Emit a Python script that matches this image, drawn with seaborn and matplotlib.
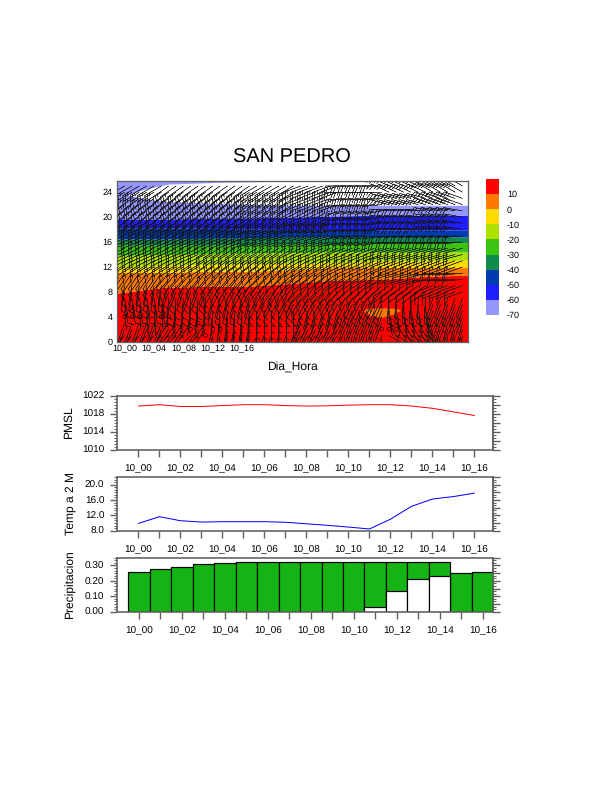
#!/usr/bin/env python3
# -*- coding: utf-8 -*-
import numpy as np
import pandas as pd
import matplotlib
matplotlib.use("Agg")
import matplotlib.pyplot as plt
from matplotlib.ticker import FixedLocator, NullFormatter
import seaborn as sns

W, H = 612, 792

# bottom panels
hours = list(range(17))
hour_labels = ['10_00', '10_02', '10_04', '10_06', '10_08', '10_10', '10_12', '10_14', '10_16']
pmsl = [1019.7, 1020.0, 1019.6, 1019.6, 1019.8, 1020.0, 1020.0, 1019.8, 1019.7,
        1019.75, 1019.9, 1020.0, 1020.0, 1019.7, 1019.2, 1018.4, 1017.6]
temp2m = [9.9, 11.65, 10.6, 10.25, 10.35, 10.35, 10.35, 10.2, 9.8,
          9.4, 8.95, 8.45, 11.0, 14.35, 16.25, 16.9, 17.8]
prec_total = [0.255, 0.276, 0.292, 0.307, 0.317, 0.322, 0.322, 0.325, 0.325,
              0.325, 0.325, 0.325, 0.325, 0.325, 0.325, 0.25, 0.255]
prec_conv = [0, 0, 0, 0, 0, 0, 0, 0, 0, 0, 0.001, 0.032, 0.132, 0.21, 0.229, 0, 0]

# top panel, isotherm heights along band_t
band_t = [-1, 5, 11, 17, 23, 29, 35, 41, 47]
z_p10 = [7.8, 8.7, 8.9, 8.9, 9.4, 9.9, 10.0, 10.5, 10.7]
z_0 = [11.1, 11.1, 11.3, 11.3, 11.6, 11.9, 11.9, 11.9, 11.9]
z_m10 = [12.0, 12.2, 12.4, 12.5, 12.6, 12.7, 12.9, 13.0, 13.1]
z_m20 = [13.9, 14.0, 14.1, 14.2, 14.3, 14.4, 14.4, 14.4, 14.4]
z_m30 = [15.5, 15.5, 15.5, 15.6, 15.7, 15.8, 15.9, 15.9, 15.9]
z_m40 = [16.5, 16.5, 16.6, 16.7, 16.8, 16.8, 16.8, 16.8, 16.8]
z_m50 = [18.3, 18.3, 18.2, 18.1, 18.0, 17.9, 17.9, 17.9, 17.9]
z_m60 = [19.7, 19.7, 19.8, 19.9, 20.0, 20.2, 20.3, 20.3, 20.3]

white_t = [0.5, 3, 6, 13, 24, 47]
white_low = [23.5, 22.9, 22.5, 22.2, 21.9, 21.9]
white_up = [23.6, 24.6, 25.3, 25.6, 25.8, 25.8]

blob_t = [32.5, 33.5, 35, 36.5, 37.5]
blob_low = [4.9, 4.2, 3.9, 4.4, 5.0]
blob_up = [5.2, 5.4, 5.45, 5.4, 5.2]

calm_t = [0, 1, 1, 2, 5, 6, 9, 10, 11, 12, 13, 35, 36, 37]
calm_z = [4, 5, 4, 4, 4, 4, 2, 3, 1, 2, 2, 2, 2, 2]

# wind read in blocks: 2 levels x 6 hours
wind_z = [1, 3, 5, 7, 9, 11, 13, 15, 17, 19, 21, 23, 25]
wind_dir = [
    [220, 225, 190, 200, 215, 190, 120, 190],
    [200, 215, 190, 180, 205, 200, 150, 195],
    [175, 190, 185, 180, 195, 200, 170, 200],
    [170, 185, 195, 205, 210, 205, 185, 200],
    [190, 200, 210, 215, 220, 225, 235, 250],
    [215, 220, 220, 225, 235, 240, 255, 265],
    [240, 240, 235, 235, 240, 245, 250, 250],
    [245, 245, 240, 240, 245, 250, 255, 255],
    [250, 250, 250, 255, 255, 260, 265, 265],
    [250, 250, 250, 255, 260, 265, 275, 280],
    [235, 235, 235, 240, 245, 260, 275, 280],
    [235, 235, 235, 240, 250, 265, 285, 290],
    [240, 235, 235, 240, 250, 270, 295, 300],
]
wind_speed = [5, 5, 5, 10, 10, 10, 15, 20, 20, 20, 20, 25, 25]

bar_colors = ['#ff0000', '#ff7800', '#ffdc00', '#afe100', '#3cc30f', '#0f8c4b',
              '#003caf', '#1e1eff', '#9696ff']
bar_labels = ['10', '0', '-10', '-20', '-30', '-40', '-50', '-60', '-70']
bar_slots = list(range(9))

sns.set_theme(style="ticks")
plt.rcParams['font.family'] = ['Liberation Sans', 'DejaVu Sans']
plt.rcParams['text.hinting'] = 'none'
plt.rcParams['text.hinting_factor'] = 1
GRAY = '#606060'


def box(x0, y0, x1, y1):
    return [x0 / W, 1 - y1 / H, (x1 - x0) / W, (y1 - y0) / H]


def style_frame(ax, lw=1.6):
    for s in ax.spines.values():
        s.set_color(GRAY)
        s.set_linewidth(lw)


fig = plt.figure(figsize=(W / 72, H / 72), dpi=72)
fig.text(292 / W, 1 - 158 / H, 'SAN PEDRO', fontsize=19.8, ha='center', va='center', color='black')

# top panel
ax = fig.add_axes(box(117.3, 181, 468, 341.7))
edges = [np.zeros(9), z_p10, z_0, z_m10, z_m20, z_m30, z_m40, z_m50, z_m60, np.full(9, 26)]
for i, col in enumerate(bar_colors):
    ax.fill_between(band_t, edges[i], edges[i + 1], color=col, lw=0)
ax.fill_between(white_t, white_low, white_up, color='white', lw=0)
ax.fill_between(blob_t, blob_low, blob_up, color=bar_colors[1], lw=0)

# every block of the wind table is drawn at the model grid spacing
grid_dir = np.repeat(np.repeat(np.array(wind_dir), 2, axis=0), 6, axis=1)[:, :47]
grid_spd = np.repeat(np.array(wind_speed), 2)[:, None] * np.ones((1, 47))
grid_t, grid_z = np.meshgrid(np.arange(47), np.arange(26))
rad = np.deg2rad(grid_dir)
u = -grid_spd * np.sin(rad)
v = -grid_spd * np.cos(rad)
calm = set(zip(calm_t, calm_z))
keep = np.array([(t, z) not in calm for t, z in zip(grid_t.ravel(), grid_z.ravel())])
ax.barbs(grid_t.ravel()[keep], grid_z.ravel()[keep], u.ravel()[keep], v.ravel()[keep],
         length=6.2, linewidth=0.4, color='#151515', flip_barb=True, pivot='tip',
         sizes=dict(emptybarb=0.2, height=0.32, spacing=0.14))
ax.scatter(calm_t, calm_z, s=14, facecolors='none', edgecolors='black', linewidths=0.6, zorder=4)
ax.set_xlim(-1, 46.75)
ax.set_ylim(0, 25.8)
ax.set_xticks([0, 4, 8, 12, 16])
ax.set_xticklabels(['10_00', '10_04', '10_08', '10_12', '10_16'], fontsize=8.5)
ax.set_yticks([0, 4, 8, 12, 16, 20, 24])
ax.tick_params(axis='x', labelsize=8.5, length=0, pad=3, colors='black')
ax.tick_params(axis='y', labelsize=8.5, length=0, pad=5, colors='black')
ax.set_xlabel('Dia_Hora', fontsize=11.5, color='black')
ax.xaxis.set_label_coords((292 - 117.3) / 350.7, -0.125)
style_frame(ax, 1.3)

# colorbar
cax = fig.add_axes(box(486, 179, 499, 315))
sns.barplot(x=[1] * 9, y=bar_slots, orient='h', hue=bar_slots, palette=bar_colors, legend=False,
            width=1, saturation=1, ax=cax, linewidth=0)
cax.set_xlim(0, 1)
cax.set_ylim(8.5, -0.5)
cax.set_xticks([])
cax.set_yticks([s + 0.5 for s in bar_slots])
cax.set_yticklabels(bar_labels, fontsize=8.5, color='black')
cax.yaxis.tick_right()
cax.tick_params(axis='y', length=0, pad=8)
cax.set_xlabel('')
cax.set_ylabel('')
sns.despine(ax=cax, left=True, bottom=True, right=True, top=True)


def bottom_axes(y0, y1, xmax, ylim, labels, fmt, ylab, ylab_x):
    a = fig.add_axes(box(117.4, y0, 493.4, y1))
    a.set_xlim(-1, xmax)
    a.set_ylim(*ylim)
    a.set_xticks(hours)
    a.set_xticklabels([hour_labels[h // 2] if h % 2 == 0 else '' for h in hours], fontsize=9.5)
    a.tick_params(axis='x', length=7, width=1.4, color=GRAY, pad=7, labelcolor='black')
    step = labels[1] - labels[0]
    a.set_yticks(labels)
    a.set_yticklabels([fmt % l for l in labels], fontsize=9.5)
    a.yaxis.set_minor_locator(FixedLocator(np.arange(ylim[0], ylim[1] + 1e-6, step / 6)))
    a.tick_params(axis='y', which='major', length=7, width=1.4, color=GRAY, pad=6, labelcolor='black')
    a.tick_params(axis='y', which='minor', length=3, width=1.0, color=GRAY)
    r = a.secondary_yaxis('right')
    r.yaxis.set_major_locator(FixedLocator(np.arange(ylim[0], ylim[1] + 1e-6, step / 2)))
    r.yaxis.set_minor_locator(FixedLocator(np.arange(ylim[0], ylim[1] + 1e-6, step / 6)))
    r.yaxis.set_major_formatter(NullFormatter())
    r.tick_params(axis='y', which='major', length=7, width=1.4, color=GRAY)
    r.tick_params(axis='y', which='minor', length=3, width=1.0, color=GRAY)
    r.spines['right'].set_color(GRAY)
    r.spines['right'].set_linewidth(1.6)
    style_frame(a)
    a.set_xlabel('')
    a.set_ylabel('')
    fig.text(ylab_x / W, 1 - ((y0 + y1) / 2) / H, ylab, fontsize=11.5, rotation=90,
             ha='center', va='center', color='black')
    return a


ax1 = bottom_axes(395.7, 449.7, 16.9, (1010, 1022), [1010, 1014, 1018, 1022], '%d', 'PMSL', 69)
sns.lineplot(x=hours, y=pmsl, color='red', linewidth=1, ax=ax1)
ax1.set_xlim(-1, 16.9)

ax2 = bottom_axes(477, 530.7, 16.9, (8, 22), [8, 12, 16, 20], '%.1f', 'Temp a 2 M', 70)
sns.lineplot(x=hours, y=temp2m, color='blue', linewidth=1, ax=ax2)
ax2.set_xlim(-1, 16.9)

df = pd.DataFrame({'hour': hours, 'total': prec_total, 'conv': prec_conv})
ax3 = bottom_axes(557.7, 611.7, 16.5, (0, 0.35), [0, 0.1, 0.2, 0.3], '%.2f', 'Precipitacion', 70)
sns.barplot(data=df, x='hour', y='total', native_scale=True, width=1, color='#14b414', saturation=1,
            edgecolor='black', linewidth=1.2, ax=ax3)
sns.barplot(data=df, x='hour', y='conv', native_scale=True, width=1, color='white', saturation=1,
            edgecolor='black', linewidth=1.2, ax=ax3)
ax3.set_xlim(-1, 16.5)
ax3.set_ylim(0, 0.35)
ax3.set_xticks(hours)
ax3.set_xticklabels([hour_labels[h // 2] if h % 2 == 0 else '' for h in hours], fontsize=9.5)
ax3.set_xlabel('')
ax3.set_ylabel('')

fig.savefig('out.png', dpi=72)
